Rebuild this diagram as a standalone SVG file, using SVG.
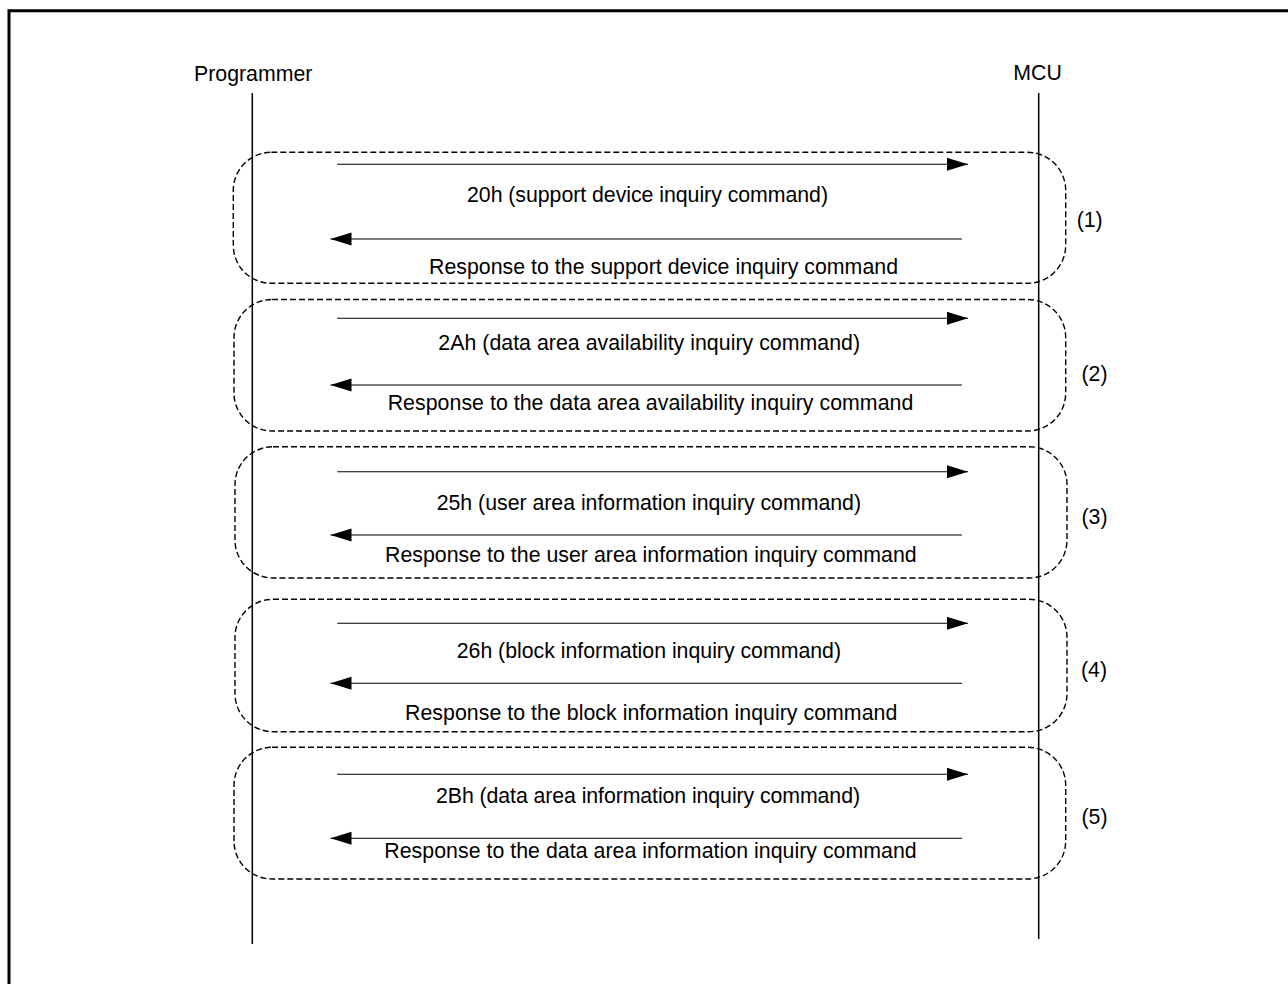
<svg xmlns="http://www.w3.org/2000/svg" width="1288" height="984" viewBox="0 0 1288 984">
<style>
text{font-family:"Liberation Sans",Arial,sans-serif;font-size:21.3px;fill:#000}
.life{stroke:#000;stroke-width:1.5;fill:none}
.grp{fill:none;stroke:#000;stroke-width:1.4;stroke-dasharray:6 3}
.msg{stroke:#000;stroke-width:1.1;fill:none;marker-end:url(#ah)}
</style>
<defs>
<marker id="ah" markerUnits="userSpaceOnUse" markerWidth="22" markerHeight="14" refX="21" refY="6.5" orient="auto">
<path d="M0,0 L21,6.5 L0,13 Z" fill="#000"/>
</marker>
</defs>
<rect width="1288" height="984" fill="#fff"/>
<path d="M9,984 V10.8 H1288" fill="none" stroke="#000" stroke-width="3"/>
<g id="programmer">
<text x="194" y="81">Programmer</text>
<line class="life" x1="252.3" y1="93" x2="252.3" y2="944"/>
</g>
<g id="mcu">
<text x="1013.3" y="80">MCU</text>
<line class="life" x1="1038.7" y1="93" x2="1038.7" y2="939"/>
</g>
<g id="group1">
<rect class="grp" x="233.3" y="152.3" width="832.4" height="131" rx="38" ry="38"/>
<text x="1076.7" y="227">(1)</text>
<text x="467" y="202" textLength="361" lengthAdjust="spacing">20h (support device inquiry command)</text>
<text x="429" y="274" textLength="469" lengthAdjust="spacing">Response to the support device inquiry command</text>
</g>
<g id="group2">
<rect class="grp" x="234" y="299.5" width="831.7" height="131.5" rx="38" ry="38"/>
<text x="1081.5" y="381">(2)</text>
<text x="438.3" y="350" textLength="421.7" lengthAdjust="spacing">2Ah (data area availability inquiry command)</text>
<text x="387.7" y="410" textLength="525.6" lengthAdjust="spacing">Response to the data area availability inquiry command</text>
</g>
<g id="group3">
<rect class="grp" x="235" y="446.7" width="832" height="131.3" rx="38" ry="38"/>
<text x="1081.5" y="524">(3)</text>
<text x="436.7" y="510" textLength="424.3" lengthAdjust="spacing">25h (user area information inquiry command)</text>
<text x="385" y="562" textLength="531.7" lengthAdjust="spacing">Response to the user area information inquiry command</text>
</g>
<g id="group4">
<rect class="grp" x="235" y="599.3" width="832" height="132.4" rx="38" ry="38"/>
<text x="1081" y="677">(4)</text>
<text x="456.7" y="658" textLength="384.3" lengthAdjust="spacing">26h (block information inquiry command)</text>
<text x="405" y="720" textLength="492.3" lengthAdjust="spacing">Response to the block information inquiry command</text>
</g>
<g id="group5">
<rect class="grp" x="234" y="747.3" width="831.7" height="131.7" rx="38" ry="38"/>
<text x="1081.5" y="824">(5)</text>
<text x="436" y="803" textLength="424" lengthAdjust="spacing">2Bh (data area information inquiry command)</text>
<text x="384.3" y="858" textLength="532.4" lengthAdjust="spacing">Response to the data area information inquiry command</text>
</g>
<g id="connectors">
<line class="msg" x1="337.3" y1="164.3" x2="968" y2="164.3"/>
<line class="msg" x1="962" y1="239" x2="330.5" y2="239"/>
<line class="msg" x1="337.3" y1="318.3" x2="968" y2="318.3"/>
<line class="msg" x1="962" y1="385" x2="330.5" y2="385"/>
<line class="msg" x1="337.3" y1="471.7" x2="968" y2="471.7"/>
<line class="msg" x1="962" y1="535" x2="330.5" y2="535"/>
<line class="msg" x1="337.3" y1="623.3" x2="968" y2="623.3"/>
<line class="msg" x1="962" y1="683.3" x2="330.5" y2="683.3"/>
<line class="msg" x1="337.3" y1="774.3" x2="968" y2="774.3"/>
<line class="msg" x1="962" y1="838.3" x2="330.5" y2="838.3"/>
</g>
</svg>
